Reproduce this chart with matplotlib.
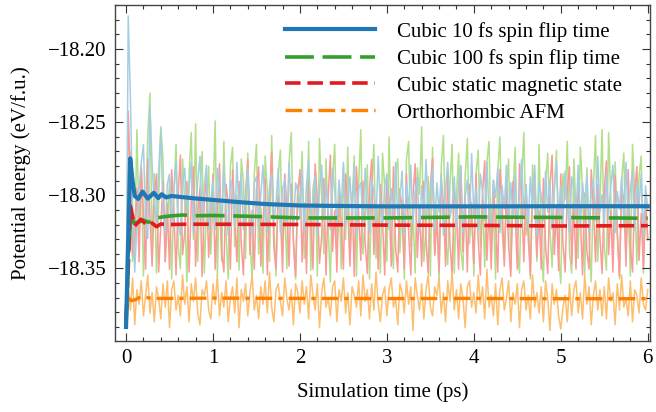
import numpy as np
import matplotlib
matplotlib.use('Agg')
import matplotlib.pyplot as plt
from matplotlib.ticker import MultipleLocator, FuncFormatter

plt.rcParams['font.family'] = ['Liberation Serif', 'DejaVu Serif']

# raw MD traces, one sample every 25 fs, stored as meV offsets from a reference level
dt_raw = 0.025  # ps
blue_ref = -18.3075
blue_raw_mev = [
    -83, 130, 75, 0, -45, -12, 12, 30, 42, -10, -22, 69, 28, 2, -12, 25, 52, -5, -18, 15,
    22, -14, 10, 30, -12, -20, 16, 26, -4, 12, 30, -18, -6, 18, 34, -10, 14, 28, -16, 2,
    18, -16, 26, 10, -10, 28, -2, -20, 18, 12, -14, 30, -6, 22, -16, 8, 26, -8, -20, 16,
    20, -14, 8, 28, -6, -18, 14, 22, -10, 2, 26, -18, 12, 18, -12, 30, -2, -16, 16, 10,
    -8, 24, -18, 14, 32, -6, 0, 20, -20, 12, 28, -10, 16, -4, -16, 26, 10, -12, 18, -2,
    30, -14, 2, 20, -8, 28, -20, 12, 16, -12, 26, -4, -18, 18, 10, -10, 34, -2, -14, 14,
    22, -16, 12, -6, 30, -10, 6, 24, -20, 16, -2, 28, -12, 10, 20, -18, 14, -6, 32, -8,
    10, 26, -16, 16, -4, 22, -20, 12, 30, -8, 0, 20, -14, 16, 28, -18, 6, 18, -10, 36,
    -6, 12, -16, 22, 10, -10, 30, -4, -14, 18, 6, 26, -18, 14, -2, 28, -12, 16, -8, 22,
    -16, 10, 32, -6, 14, -14, 20, -2, 28, -20, 16, 8, -10, 24, -4, 18, -16, 12, 30, -8,
    14, -12, 24, 0, -18, 20, 12, -8, 28, -14, 16, -2, 22, -18, 10, 18, -10, 34, -4, 8,
    -14, 22, -6, 14, 28, -18, 10, -2, 20, -12, 30, -8, 12, 24, -16, 16, 0, 22, -20, 14,
    -2]

green_ref = -18.3152
green_raw_mev = [
    -74, 20, 45, -30, -20, 60, -10, 35, -40, 5, 55, 85, -25, 30, -38, 10, 62, 40, -30, -5,
    25, -42, 15, 50, -20, -35, 40, 10, -44, 30, 58, -15, 64, -30, 20, 45, -38, 5, 35, -25,
    12, 66, -40, 20, -30, 52, -10, -42, 35, 48, -20, 15, -36, 40, 25, -28, 44, -12, -44, 30,
    50, -25, 10, -38, 42, 18, -30, 56, -5, -40, 28, 46, -22, 8, -35, 38, 58, -18, -42, 22,
    5, 45, -28, -10, 52, -36, 20, 30, -40, 54, 12, -25, 40, -8, -44, 26, 50, -20, 15, -35,
    35, -15, 48, -30, 10, 42, -40, 22, 60, -25, -5, 36, -42, 18, 50, -28, 8, -38, 44, 20,
    -30, 55, -12, -35, 30, 40, -24, 12, -42, 40, 52, -20, 5, -38, 34, 16, 62, -30, -10, 28,
    -40, 48, -26, 8, -44, 35, 56, -15, -32, 22, 50, -38, 14, 44, -22, -36, 28, 54, -18, 10,
    -40, 30, 46, -20, 12, -34, 38, 52, -26, 6, -42, 32, 55, -10, -30, 20, 40, -36, 16, 48,
    -18, -38, 26, 58, -12, 8, -42, 36, 10, -30, 50, -20, -44, 24, 44, -8, -34, 18, 46, -26,
    -45, 30, 12, 52, -24, -38, 40, 6, -28, 48, 20, -40, 34, -14, -44, 22, 56, -30, 10, 60,
    -20, -36, 58, 14, -30, 38, -10, -42, 26, 44, -22, 8, -40, 50, 16, -32, 28, 42, -38, 10,
    -15]

red_ref = -18.3205
red_raw_mev = [
    -65, 78, 30, -20, -10, 25, -25, 40, 10, -30, 45, 5, -28, 20, 35, -32, 0, 30, -25, 15,
    -30, 38, 10, -34, 22, 48, -20, -5, 30, -32, 15, 40, -28, 8, 25, -35, 18, 32, -22, 5,
    35, -30, 12, 42, -18, -32, 28, 15, -30, 38, 5, -25, 30, -12, -34, 22, 45, -20, 10, -30,
    25, 40, -28, 0, 32, -34, 18, 50, -15, -30, 20, 8, -32, 35, 12, -28, 28, -10, -35, 22,
    38, -25, 15, -33, 30, 5, -30, 42, 18, -26, -8, 32, -34, 20, 48, -18, 10, -32, 26, 0,
    -30, 35, 12, -28, 22, -35, 40, 8, -24, 30, -12, -33, 25, 45, -20, 15, -30, 28, 2, -34,
    30, 18, -28, 40, -15, -32, 25, 10, -30, 35, -5, -34, 20, 42, -22, 12, -28, 30, -10, -33,
    28, 46, -20, 5, -32, 32, 15, -28, 38, -12, -34, 24, 10, -30, 40, -18, 20, -32, 28, 6,
    -26, 35, -10, -34, 22, 44, -24, 12, -30, 30, 0, -32, 38, 16, -28, 25, -14, -35, 30, 8,
    -30, 42, 18, -25, 28, -8, -34, 20, 36, -22, 10, -30, 32, -15, -33, 26, 48, -20, 12, -31,
    35, -12, -32, 25, 40, -26, 15, -30, 30, 5, -34, 22, -18, -30, 38, 12, -25, 28, -8, -33,
    24, 44, -20, 10, -32, 34, -6, -35, 28, 16, -28, 38, -14, -32, 22, 40, -24, 8, -30, 18,
    -10]

orange_ref = -18.3705
orange_raw_mev = [
    -2, 10, -8, 14, -18, 6, -4, 12, -12, 2, 16, -10, 4, -16, 8, 0, -14, 10, -6, 12,
    -20, 6, 12, -8, 2, -12, 16, -4, 8, -16, 10, -2, 14, -10, -18, 6, 2, 12, -8, -14,
    10, -4, 16, -12, 4, -6, 12, -16, 0, 8, -10, 14, -20, 6, -2, 10, -12, 4, 16, -8,
    2, -14, 8, -4, 12, -10, 18, -6, -16, 6, 10, -2, -12, 14, 0, -8, 6, -18, 10, 4,
    -10, 12, -4, 8, -14, 16, 2, -8, 10, -20, 4, 14, -6, 0, -12, 8, 12, -16, 6, -2,
    14, -10, 4, -18, 8, 2, -6, 12, -12, 16, -2, 6, -14, 10, -8, 18, -4, -16, 2, 8,
    -12, 6, 14, -6, 0, -18, 10, 4, -10, 12, -4, 8, -22, 14, 2, -8, 10, -14, 6, 16,
    -6, -12, 8, 2, 14, -10, 4, -16, 12, -2, 18, -8, 6, -14, 10, 0, -20, 8, 12, -6,
    4, -10, 16, -4, 8, -14, 20, -6, 2, -12, 10, -18, 6, 14, -8, 0, 12, -16, 4, -4,
    10, -20, 6, 12, -8, 2, -14, 16, -6, 4, -10, 8, -16, 12, 0, -22, 10, -4, 6, -12,
    -21, -6, 2, -16, 10, -12, 6, 12, -10, 4, -14, 16, -4, 8, -18, 2, 12, -8, 6, -12,
    8, -14, 14, -2, 4, -18, 10, -8, 16, -6, 0, -12, 12, -16, 6, 2, -10, 14, -4, -8,
    6]

# running averages (thick lines)
blue_avg_t = [0, 0.048, 0.075, 0.1, 0.14, 0.19, 0.25, 0.32, 0.37, 0.41, 0.46, 0.52,
              0.6, 0.8, 1.0, 1.3, 1.6, 2.0, 2.4, 3.0, 4.0, 5.0, 6.0]
blue_avg = [-18.390, -18.2748, -18.290, -18.3005, -18.3025, -18.2975, -18.3023, -18.2983,
            -18.302, -18.2993, -18.3015, -18.3005, -18.3010, -18.3022, -18.3032, -18.3047,
            -18.306, -18.307, -18.3073, -18.3076, -18.3076, -18.3075, -18.3075]

green_avg_t = [0, 0.05, 0.09, 0.14, 0.2, 0.26, 0.32, 0.4, 0.5, 0.65, 0.8, 1.0, 1.5,
               2.0, 3.0, 4.0, 5.0, 6.0]
green_avg = [-18.389, -18.312, -18.319, -18.3185, -18.317, -18.3185, -18.316, -18.315,
             -18.3142, -18.3135, -18.314, -18.3138, -18.3145, -18.3155, -18.3155,
             -18.3148, -18.3152, -18.3157]

red_avg_t = [0, 0.05, 0.1, 0.17, 0.25, 0.3, 0.35, 0.4, 0.5, 0.7, 1.0, 2.0, 3.0, 4.0, 5.0, 6.0]
red_avg = [-18.385, -18.3073, -18.321, -18.3164, -18.321, -18.319, -18.3215, -18.3197,
           -18.320, -18.3198, -18.3198, -18.320, -18.3204, -18.3206, -18.321, -18.3208]

orange_avg_t = [0, 0.03, 0.06, 0.1, 0.15, 0.2, 0.3, 0.5, 1, 2, 3, 4, 5, 6]
orange_avg = [-18.372, -18.3705, -18.372, -18.3715, -18.370, -18.3695, -18.3705, -18.3705,
              -18.3703, -18.3705, -18.3706, -18.3705, -18.3707, -18.3707]

labels = ['Cubic 10 fs spin flip time', 'Cubic 100 fs spin flip time',
          'Cubic static magnetic state', 'Orthorhombic AFM']

# Paired palette: light for raw, dark for averages
light = ['#a6cee3', '#b2df8a', '#fb9a99', '#fdbf6f']
dark = ['#1f78b4', '#33a02c', '#e31a1c', '#ff7f00']

fig = plt.figure(figsize=(6.56, 4.12), dpi=100)
ax = fig.add_axes([115 / 656, 1 - 341 / 412, 535 / 656, 336 / 412])

t_raw = np.arange(len(blue_raw_mev)) * dt_raw
raws = [(green_raw_mev, green_ref, light[1]),
        (red_raw_mev, red_ref, light[2]),
        (blue_raw_mev, blue_ref, light[0]),
        (orange_raw_mev, orange_ref, light[3])]
for vals, ref, c in raws:
    ax.plot(t_raw, ref + np.array(vals) / 1000.0, color=c, lw=1.1, zorder=1)

ax.plot(blue_avg_t, blue_avg, color=dark[0], lw=3.0, label=labels[0], zorder=5)
ax.plot(green_avg_t, green_avg, color=dark[1], lw=2.6, ls=(0, (8, 2.4)),
        label=labels[1], zorder=4)
ax.plot(red_avg_t, red_avg, color=dark[2], lw=2.6, ls=(0, (4.3, 1.9)),
        label=labels[2], zorder=4)
ax.plot(orange_avg_t, orange_avg, color=dark[3], lw=2.4, ls=(0, (5, 1.8, 1.3, 1.8)),
        label=labels[3], zorder=4)

ax.set_xlim(-0.127, 6.026)
ax.set_ylim(-18.3996, -18.170)
ax.xaxis.set_major_locator(MultipleLocator(1))
ax.xaxis.set_minor_locator(MultipleLocator(0.2))
ax.yaxis.set_major_locator(MultipleLocator(0.05))
ax.yaxis.set_minor_locator(MultipleLocator(0.01))
ax.yaxis.set_major_formatter(FuncFormatter(lambda v, p: f'{v:.2f}'.replace('-', '\u2212')))

ax.tick_params(which='both', direction='in', top=True, right=True, colors='#333333',
               labelcolor='black', labelsize=15, width=0.8)
ax.tick_params(which='major', length=6, pad=6)
ax.tick_params(which='minor', length=3)
for s in ax.spines.values():
    s.set_color('#444444')
    s.set_linewidth(1.0)

ax.set_xlabel('Simulation time (ps)', fontsize=15, labelpad=10)
ax.set_ylabel('Potential energy (eV/f.u.)', fontsize=15, labelpad=12)

ax.legend(loc='upper left', bbox_to_anchor=((285 - 115) / 535, 0.95), frameon=False,
          fontsize=15, handlelength=4.33, handletextpad=1.06, labelspacing=0.35,
          borderpad=0, borderaxespad=0)

fig.savefig('out.png', dpi=100)
